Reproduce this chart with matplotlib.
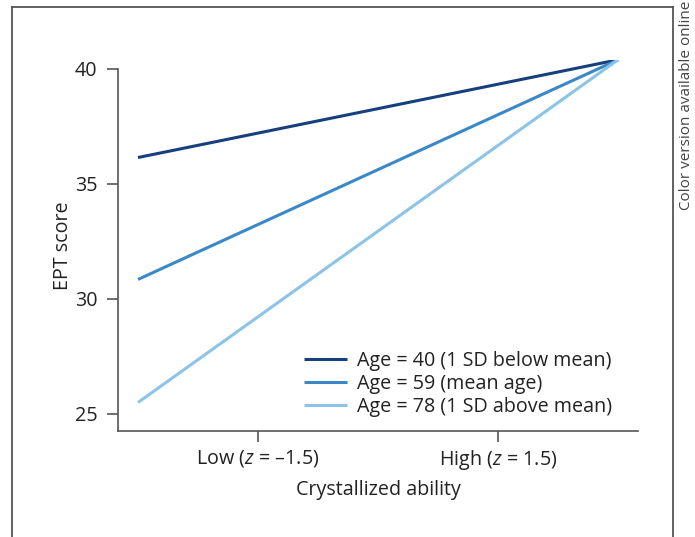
import matplotlib
matplotlib.use("Agg")
import matplotlib.pyplot as plt
from matplotlib.lines import Line2D

plt.rcParams['font.family'] = ['Open Sans', 'DejaVu Sans']
plt.rcParams['mathtext.fontset'] = 'custom'
plt.rcParams['mathtext.it'] = 'Open Sans:italic'
plt.rcParams['mathtext.rm'] = 'Open Sans'

# crystallized ability (z) at the ends of each simple slope
z_ends = [-3, 3]
series_labels = ['Age = 40 (1 SD below mean)',
                 'Age = 59 (mean age)',
                 'Age = 78 (1 SD above mean)']
ept_age40 = [36.15, 40.4]
ept_age59 = [30.85, 40.4]
ept_age78 = [25.5, 40.4]
colors = ['#153f7d', '#3a88c8', '#8cc3e6']

tick_pos = [-1.5, 1.5]
tick_labels = ['Low ($z$ = –1.5)', 'High ($z$ = 1.5)']
y_ticks = [25, 30, 35, 40]

fig = plt.figure(figsize=(6.95, 5.37), dpi=100)
W, H = 695, 537
ax = fig.add_axes([118 / W, 1 - 431 / H, (638 - 118) / W, (431 - 60) / H])

ymin, ymax = 24.26, 40.39
for vals, lab, c in zip([ept_age40, ept_age59, ept_age78], series_labels, colors):
    ax.plot(z_ends, vals, color=c, lw=2.2, label=lab, solid_capstyle='butt')

ax.set_xlim(-3.25, 3.25)
ax.set_ylim(ymin, ymax)
ax.set_xticks(tick_pos)
ax.set_xticklabels(tick_labels)
ax.set_yticks(y_ticks)
ax.spines['top'].set_visible(False)
ax.spines['right'].set_visible(False)
ax.spines['left'].set_bounds(ymin, 40)
for s in ['left', 'bottom']:
    ax.spines[s].set_color('#555555')
    ax.spines[s].set_linewidth(1.2)
ax.tick_params(direction='out', length=8, width=1.2, color='#555555',
               labelsize=14.2, labelcolor='#222222', pad=4)
ax.tick_params(axis='y', pad=7)
ax.set_xlabel('Crystallized ability', fontsize=14.2, color='#222222', labelpad=6)
ax.set_ylabel('EPT score', fontsize=14.2, color='#222222', labelpad=1)

ax.legend(loc='lower left', bbox_to_anchor=(0.323, -0.011), frameon=False,
          fontsize=14.2, handlelength=2.2, handletextpad=0.5,
          labelspacing=0.17, labelcolor='#222222')

# outer frame
fc = '#555555'
fig.add_artist(Line2D([12 / W, 12 / W], [0, 1 - 7 / H], color=fc, lw=1.3))
fig.add_artist(Line2D([12 / W, 673 / W], [1 - 7 / H, 1 - 7 / H], color=fc, lw=1.3))
fig.add_artist(Line2D([673 / W, 673 / W], [0, 1 - 7 / H], color=fc, lw=1.3))

fig.text(687 / W, 1 - 1 / H, 'Color version available online', rotation=90,
         ha='center', va='top', fontsize=11, color='#444444')

fig.savefig('out.png', dpi=100)
